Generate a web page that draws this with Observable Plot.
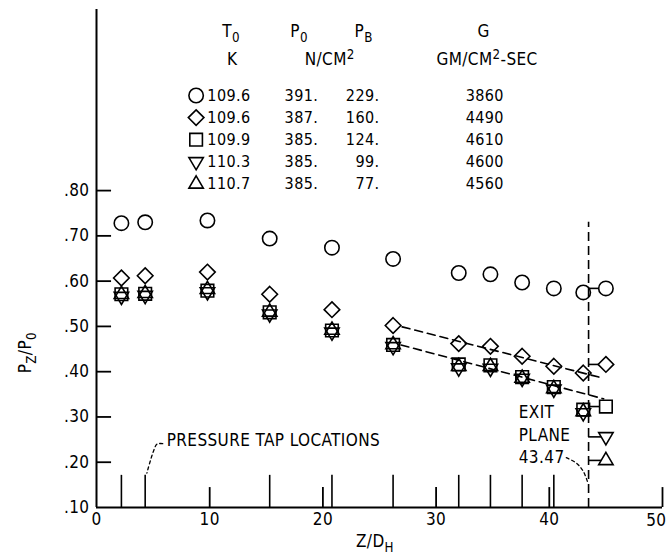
<!DOCTYPE html>
<html>
<head>
<meta charset="utf-8">
<script src="https://cdn.jsdelivr.net/npm/d3@7"></script>
<script src="https://cdn.jsdelivr.net/npm/@observablehq/plot@0.6"></script>
<style>
  html, body { margin: 0; padding: 0; background: #fff; }
  #chart { width: 667px; height: 557px; }
</style>
</head>
<body>
<div id="chart"></div>
<script>
// ---------------- DATA ----------------
const zTap = [2.2, 4.3, 9.8, 15.3, 20.8, 26.2, 32.0, 34.8, 37.6, 40.4, 43.0]; // Z/D_H of data points
const zExitPlot = 45.0;           // where exit-plane values are drawn (flagged)
const zExitPlane = 43.47;
const tapLines = [2.2, 4.3, 15.3, 20.8, 26.2, 32.0, 34.8, 37.6, 40.4];
const xTicks = [0, 10, 20, 30, 40, 50];
const yTicks = [0.10, 0.20, 0.30, 0.40, 0.50, 0.60, 0.70, 0.80];

const circleVals   = [0.728, 0.730, 0.734, 0.694, 0.674, 0.649, 0.618, 0.615, 0.597, 0.584, 0.575];
const diamondVals  = [0.607, 0.612, 0.620, 0.571, 0.537, 0.502, 0.462, 0.456, 0.434, 0.412, 0.397];
const squareVals   = [0.571, 0.572, 0.579, 0.531, 0.491, 0.459, 0.416, 0.414, 0.388, 0.366, 0.316];
const triDownVals  = [0.566, 0.568, 0.576, 0.527, 0.487, 0.455, 0.408, 0.407, 0.385, 0.361, 0.309];
const triUpVals    = [0.571, 0.573, 0.582, 0.532, 0.492, 0.460, 0.412, 0.412, 0.386, 0.363, 0.312];
const exitVals     = [0.584, 0.416, 0.323, 0.256, 0.204]; // circle, diamond, square, down, up

const fitUpperZ = [27.0, 44.7], fitUpperP = [0.499, 0.386];
const fitLowerZ = [26.9, 44.8], fitLowerP = [0.459, 0.340];

const legendT0 = ["109.6", "109.6", "109.9", "110.3", "110.7"];
const legendP0 = ["391.", "387.", "385.", "385.", "385."];
const legendPB = ["229.", "160.", "124.", "99.", "77."];
const legendG  = ["3860", "4490", "4610", "4600", "4560"];

// ---------------- SYMBOLS ----------------
const symCircle = {draw(c) { c.moveTo(7.2, 0); c.arc(0, 0, 7.2, 0, 2 * Math.PI); c.closePath(); }};
const symDiamond = {draw(c) { c.moveTo(0, -7.8); c.lineTo(7.8, 0); c.lineTo(0, 7.8); c.lineTo(-7.8, 0); c.closePath(); }};
const symSquare = {draw(c) { c.moveTo(-6.3, -6.3); c.lineTo(6.3, -6.3); c.lineTo(6.3, 6.3); c.lineTo(-6.3, 6.3); c.closePath(); }};
const symDown = {draw(c) { c.moveTo(0, 8); c.lineTo(7.2, -4.2); c.lineTo(-7.2, -4.2); c.closePath(); }};
const symUp = {draw(c) { c.moveTo(0, -8); c.lineTo(7.2, 4.2); c.lineTo(-7.2, 4.2); c.closePath(); }};
const symbols = [symCircle, symDiamond, symSquare, symDown, symUp];
const seriesVals = [circleVals, diamondVals, squareVals, triDownVals, triUpVals];

const points = [];
seriesVals.forEach((vals, s) => vals.forEach((v, i) => points.push({s, z: zTap[i], p: v})));
const exits = exitVals.map((v, s) => ({s, z: zExitPlot, p: v}));
const legendRows = legendT0.map((t, i) => ({i, t0: t, p0: legendP0[i], pb: legendPB[i], g: legendG[i]}));

const rowY = i => 1.010 - i * 0.0488;
const font = "'Liberation Sans Narrow', 'DejaVu Sans Condensed', 'Liberation Sans', sans-serif";

const dotMarks = symbols.map((sym, s) =>
  Plot.dot(points.filter(d => d.s === s), {x: "z", y: "p", symbol: sym, stroke: "black", strokeWidth: 1.6, fill: "none"}));
const exitMarks = symbols.map((sym, s) =>
  Plot.dot(exits.filter(d => d.s === s), {x: "z", y: "p", symbol: sym, stroke: "black", strokeWidth: 1.6, fill: "white"}));
const legendSymMarks = symbols.map((sym, s) =>
  Plot.dot(legendRows.filter(d => d.i === s), {x: () => 8.8, y: d => rowY(d.i), symbol: sym, stroke: "black", strokeWidth: 1.6, fill: "none"}));

const valFont = {fontSize: 16, letterSpacing: "0px"};

const plot = Plot.plot({
  width: 667, height: 557,
  marginLeft: 96, marginRight: 5, marginTop: 9, marginBottom: 50,
  x: {domain: [0, 50]},
  y: {domain: [0.1, 1.2]},
  style: {fontFamily: font, fontSize: "17px", color: "black", background: "white", letterSpacing: "0.4px"},
  marks: [
    // axes
    Plot.ruleX([0], {y1: 0.1, y2: 1.2, strokeWidth: 2}),
    Plot.ruleY([0.1], {x1: 0, x2: 50, strokeWidth: 2}),
    Plot.ruleY(yTicks.filter(d => d > 0.1), {y: d => d, x1: 0, x2: 1.33, strokeWidth: 1.8}),
    Plot.ruleX(xTicks.filter(d => d > 0), {x: d => d, y1: 0.1, y2: 0.144, strokeWidth: 1.8}),
    Plot.ruleX(tapLines, {x: d => d, y1: 0.1, y2: 0.171, strokeWidth: 1.6}),
    Plot.axisY({ticks: yTicks, tickSize: 0, tickPadding: 7, label: null, fontSize: 17,
      tickFormat: d => d3.format(".2f")(d).replace(/^0/, "")}),
    Plot.axisX({ticks: xTicks.filter(d => d < 50), tickSize: 0, tickPadding: 5, label: null, fontSize: 17, tickFormat: d => String(d)}),
    Plot.text(xTicks.filter(d => d === 50), {x: d => d, y: 0.1, text: d => String(d), dy: 13, dx: 4, textAnchor: "end", fontSize: 17}),
    // exit plane
    Plot.ruleX([zExitPlane], {y1: 0.1, y2: 0.73, strokeWidth: 1.6, strokeDasharray: "9,5"}),
    // fit lines
    Plot.line(fitUpperZ.map((z, i) => ({z, p: fitUpperP[i]})), {x: "z", y: "p", strokeWidth: 1.6, strokeDasharray: "8,5"}),
    Plot.line(fitLowerZ.map((z, i) => ({z, p: fitLowerP[i]})), {x: "z", y: "p", strokeWidth: 1.6, strokeDasharray: "8,5"}),
    // exit flags
    Plot.ruleY(exits, {y: "p", x1: zExitPlane, x2: "z", strokeWidth: 1.6}),
    ...dotMarks,
    ...exitMarks,
    // legend table
    Plot.text(["T_{0}"], {x: 11.9, y: 1.152, text: d => d}),
    Plot.text(["K"], {x: 12.0, y: 1.090, text: d => d}),
    Plot.text(["P_{0}"], {x: 17.9, y: 1.152, text: d => d}),
    Plot.text(["P_{B}"], {x: 23.6, y: 1.152, text: d => d}),
    Plot.text(["N/CM^{2}"], {x: 20.6, y: 1.090, text: d => d}),
    Plot.text(["G"], {x: 34.2, y: 1.152, text: d => d}),
    Plot.text(["GM/CM^{2}-SEC"], {x: 34.5, y: 1.090, text: d => d}),
    ...legendSymMarks,
    Plot.text(legendRows, {x: () => 11.7, y: d => rowY(d.i), text: "t0", ...valFont}),
    Plot.text(legendRows, {x: () => 18.1, y: d => rowY(d.i), text: "p0", ...valFont}),
    Plot.text(legendRows, {x: () => 25.0, y: d => rowY(d.i), text: "pb", textAnchor: "end", ...valFont}),
    Plot.text(legendRows, {x: () => 34.3, y: d => rowY(d.i), text: "g", ...valFont}),
    // annotations
    Plot.text(["PRESSURE TAP LOCATIONS"], {x: 6.2, y: 0.247, text: d => d, textAnchor: "start", letterSpacing: "0.6px"}),
    Plot.line([[5.85, 0.241], [5.35, 0.240], [5.0, 0.222], [4.45, 0.176]], {curve: "catmull-rom", strokeWidth: 1.3, strokeDasharray: "3,3"}),
    Plot.text(["EXIT"], {x: 37.3, y: 0.310, text: d => d, textAnchor: "start"}),
    Plot.text(["PLANE"], {x: 37.3, y: 0.259, text: d => d, textAnchor: "start"}),
    Plot.text([String(zExitPlane)], {x: 37.3, y: 0.210, text: d => d, textAnchor: "start"}),
    Plot.line([[41.5, 0.210], [42.4, 0.198], [43.0, 0.180], [43.4, 0.155]], {curve: "catmull-rom", strokeWidth: 1.3, strokeDasharray: "3,3"}),
    // axis titles
    Plot.text(["Z/D_{H}"], {x: 24.6, y: 0.024, text: d => d}),
    Plot.text(["P_{Z}/P_{0}"], {x: -6.3, y: 0.442, text: d => d, rotate: -90})
  ]
});

// turn _{..} / ^{..} into sub/superscript tspans (real text)
d3.select(plot).selectAll("text").each(function () {
  const s = this.textContent;
  if (!/[_^]\{/.test(s)) return;
  const parts = s.split(/([_^]\{[^}]*\})/).filter(Boolean);
  this.textContent = "";
  let shift = 0;
  for (const p of parts) {
    const m = p.match(/^([_^])\{([^}]*)\}$/);
    const ts = d3.select(this).append("tspan");
    if (m) {
      const dy = m[1] === "_" ? 5 : -6;
      ts.attr("dy", dy - shift).attr("font-size", "0.78em").text(m[2]);
      shift = dy;
    } else {
      ts.attr("dy", -shift).text(p);
      shift = 0;
    }
  }
});

document.getElementById("chart").appendChild(plot);
</script>
</body>
</html>
